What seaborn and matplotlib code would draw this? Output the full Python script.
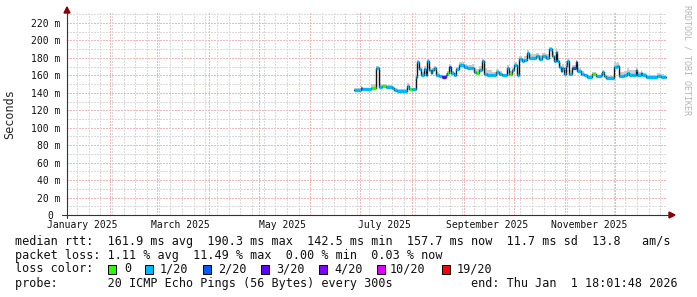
import matplotlib
matplotlib.use("Agg")
import matplotlib.pyplot as plt
import matplotlib.dates as mdates
from matplotlib.patches import Rectangle, Polygon
from matplotlib.lines import Line2D
import seaborn as sns
import pandas as pd
import numpy as np

# ---------------- data ----------------
dates = ["2025-06-28", "2025-07-02", "2025-07-03", "2025-07-08", "2025-07-11", "2025-07-13",
         "2025-07-15", "2025-07-17", "2025-07-21", "2025-07-22", "2025-07-24", "2025-07-30",
         "2025-07-31", "2025-08-02", "2025-08-04", "2025-08-05", "2025-08-06", "2025-08-07",
         "2025-08-09", "2025-08-10", "2025-08-11", "2025-08-12", "2025-08-13", "2025-08-14",
         "2025-08-15", "2025-08-16", "2025-08-18", "2025-08-20", "2025-08-22", "2025-08-23",
         "2025-08-24", "2025-08-25", "2025-08-27", "2025-08-28", "2025-08-30", "2025-09-02",
         "2025-09-04", "2025-09-07", "2025-09-08", "2025-09-09", "2025-09-11", "2025-09-13",
         "2025-09-14", "2025-09-16", "2025-09-19", "2025-09-21", "2025-09-23", "2025-09-25",
         "2025-09-28", "2025-09-29", "2025-10-01", "2025-10-02", "2025-10-04", "2025-10-05",
         "2025-10-07", "2025-10-08", "2025-10-10", "2025-10-11", "2025-10-15", "2025-10-17",
         "2025-10-19", "2025-10-21", "2025-10-23", "2025-10-25", "2025-10-26", "2025-10-27",
         "2025-10-28", "2025-10-29", "2025-10-30", "2025-10-31", "2025-11-01", "2025-11-02",
         "2025-11-03", "2025-11-04", "2025-11-06", "2025-11-08", "2025-11-09", "2025-11-11",
         "2025-11-13", "2025-11-15", "2025-11-18", "2025-11-20", "2025-11-23", "2025-11-24",
         "2025-11-25", "2025-11-26", "2025-12-01", "2025-12-03", "2025-12-04", "2025-12-07",
         "2025-12-09", "2025-12-10", "2025-12-12", "2025-12-14", "2025-12-15", "2025-12-17",
         "2025-12-18", "2025-12-20", "2025-12-27", "2025-12-29", "2025-12-31"]
median_ms = [143, 146, 144, 146, 168, 147, 148, 147, 146, 143, 142.5, 148,
             144, 144, 158, 175, 167, 161, 167, 161, 176, 166, 163, 166,
             168, 161, 159, 158, 161, 163, 170, 163, 161, 167, 172, 170,
             168, 169, 164, 163, 166, 176, 162, 161, 160, 164, 162, 160,
             169, 162, 166, 172, 160, 179, 176, 178, 186, 180, 182, 179,
             182, 180, 190, 182, 177, 187, 176, 170, 165, 169, 162, 171,
             176, 162, 168, 175, 165, 162, 160, 158, 162, 159, 161, 164,
             159, 157, 170, 171, 159, 160, 163, 161, 160, 166, 160, 163,
             160, 158, 159, 158, 157.7]
loss_level = [1, 2, 1, 0, 1, 1, 0, 1, 1, 1, 1, 1,
              0, 1, 1, 1, 1, 1, 1, 1, 1, 1, 1, 1,
              1, 1, 1, 3, 1, 0, 2, 1, 1, 1, 1, 1,
              1, 1, 1, 0, 1, 1, 1, 1, 1, 1, 1, 1,
              1, 0, 1, 1, 1, 1, 1, 1, 1, 1, 1, 1,
              1, 1, 1, 1, 1, 1, 1, 1, 1, 1, 1, 1,
              1, 1, 2, 2, 1, 1, 1, 1, 0, 1, 1, 1,
              1, 1, 1, 1, 1, 1, 1, 1, 1, 1, 1, 1,
              1, 1, 1, 1, 1]
smoke_ms = [2, 2, 2, 4, 3, 3, 2, 2, 2, 2, 2, 3,
            2, 2, 3, 3, 3, 3, 4, 3, 3, 4, 3, 3,
            3, 3, 2, 2, 2, 2, 3, 2, 2, 3, 3, 3,
            4, 4, 4, 4, 5, 3, 6, 5, 4, 3, 3, 2,
            3, 3, 3, 3, 3, 3, 4, 4, 3, 4, 4, 4,
            4, 4, 3, 5, 4, 4, 4, 4, 4, 4, 4, 5,
            3, 4, 4, 3, 3, 3, 2, 2, 2, 2, 2, 2,
            2, 2, 4, 4, 5, 5, 6, 5, 6, 4, 4, 3,
            3, 3, 4, 4, 3]
data_end = "2026-01-01"

loss_labels = ["0", "1/20", "2/20", "3/20", "4/20", "10/20", "19/20"]
loss_colors = ["#26ff00", "#00b8ff", "#0059ff", "#5e00ff", "#7e00ff", "#dd00ff", "#ff0000"]

y_ticks = [0, 20, 40, 60, 80, 100, 120, 140, 160, 180, 200, 220]
y_tick_labels = ["0 ", "20 m", "40 m", "60 m", "80 m", "100 m", "120 m", "140 m",
                 "160 m", "180 m", "200 m", "220 m"]
x_label_dates = ["2025-01-16", "2025-03-16", "2025-05-16", "2025-07-16", "2025-09-16", "2025-11-16"]
x_labels = ["January 2025", "March 2025", "May 2025", "July 2025", "September 2025", "November 2025"]

legend_rows = [
    "median rtt:  161.9 ms avg  190.3 ms max  142.5 ms min  157.7 ms now  11.7 ms sd  13.8   am/s",
    "packet loss: 1.11 % avg  11.49 % max  0.00 % min  0.03 % now",
    "loss color:",
    "probe:       20 ICMP Echo Pings (56 Bytes) every 300s           end: Thu Jan  1 18:01:48 2026",
]

# ---------------- figure ----------------
sns.set_style("white")
plt.rcParams["font.family"] = ["DejaVu Sans Mono"]

W, H = 697, 297
def fp(x, y):
    return (x / W, 1 - y / H)

fig = plt.figure(figsize=(W / 100, H / 100), dpi=100)
fig.patch.set_facecolor("white")
ax = fig.add_axes([67 / W, 1 - 215 / H, 600 / W, 202 / H])
ax.set_facecolor("white")

end = pd.Timestamp("2026-01-01 18:01:48")
start = end - pd.Timedelta(days=360)

minor_c = "#dadada"
major_c = "#f0b8b8"
dot = (0, (1.4, 1.4))
gkw = dict(lw=0.72, ls=dot, antialiased=False)
for v in range(10, 232, 10):
    ax.axhline(v, color=major_c if v % 20 == 0 else minor_c, zorder=0, **gkw)
for d in pd.date_range(start, end, freq="W-SUN"):
    ax.axvline(d, color=minor_c, zorder=0, **gkw)
for d in pd.date_range(start, end, freq="MS"):
    ax.axvline(d, color=major_c, zorder=0.5, **gkw)

x = pd.to_datetime(dates)
x_ext = list(x) + [pd.Timestamp(data_end)]
med = np.array(median_ms, dtype=float)
med_ext = list(med) + [med[-1]]
sm_ext = list(med + np.array(smoke_ms)) + [med[-1] + smoke_ms[-1]]

ax.fill_between(x_ext, med_ext, sm_ext, step="post", color="#cdcdcd", lw=0, zorder=2)

df = pd.DataFrame({"t": x_ext, "ms": med_ext})
sns.lineplot(data=df, x="t", y="ms", drawstyle="steps-post", color="#151515",
             lw=1.0, estimator=None, ax=ax, zorder=3)

xn = mdates.date2num(x_ext)
ax.hlines(med, xn[:-1], xn[1:], colors=[loss_colors[l] for l in loss_level],
          lw=2.4, zorder=4, capstyle="butt")

ax.set_xlim(start, end)
ax.set_ylim(0, 231.5)
ax.set_xlabel("")
ax.set_ylabel("")
for s in ax.spines.values():
    s.set_visible(False)

ax.set_yticks(y_ticks)
ax.set_yticklabels(y_tick_labels)
ax.tick_params(axis="y", length=0, pad=5, labelsize=7, labelcolor="#111111")
ax.set_xticks(pd.to_datetime(x_label_dates))
ax.set_xticklabels(x_labels)
ax.tick_params(axis="x", length=0, pad=3.5, labelsize=7, labelcolor="#111111")

# axis lines and arrows
axis_c = "#333333"
arrow_c = "#8b0000"
fig.add_artist(Line2D([67 / W, 67 / W], [fp(0, 218)[1], fp(0, 12)[1]], color=axis_c, lw=0.8))
fig.add_artist(Line2D([62 / W, 670 / W], [fp(0, 215)[1]] * 2, color=axis_c, lw=0.8))
fig.add_artist(Polygon([fp(67, 7), fp(64, 13), fp(70, 13)], closed=True,
                       transform=fig.transFigure, color=arrow_c))
fig.add_artist(Polygon([fp(675, 215), fp(669, 212), fp(669, 218)], closed=True,
                       transform=fig.transFigure, color=arrow_c))

fig.text(*fp(10, 114), "Seconds", rotation=90, ha="center", va="center", fontsize=8.5)
fig.text(*fp(687, 5), "RRDTOOL / TOBI OETIKER", rotation=270, ha="center", va="top",
         fontsize=6, color="#b5b5b5")

row_y = [241, 255, 269, 283]
for txt, yy in zip(legend_rows, row_y):
    fig.text(*fp(15, yy), txt, ha="left", va="center", fontsize=8.45, color="#111111")

box_x = [108, 145, 203, 261, 319, 377, 442]
lab_x = [124, 160, 218, 276, 334, 390, 457]
for bx, lx, c, lab in zip(box_x, lab_x, loss_colors, loss_labels):
    x0, y0 = fp(bx, 273.5)
    fig.add_artist(Rectangle((x0, y0), 8 / W, 9 / H, transform=fig.transFigure,
                             facecolor=c, edgecolor="black", lw=0.7))
    fig.text(*fp(lx, 269), lab, ha="left", va="center", fontsize=8.45, color="#111111")

fig.savefig("out.png", dpi=100, facecolor="white")
